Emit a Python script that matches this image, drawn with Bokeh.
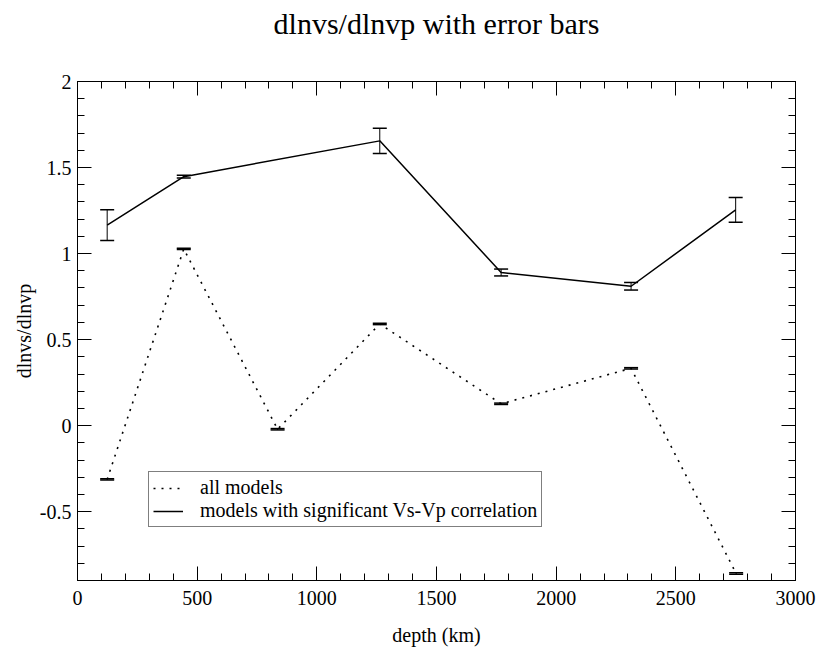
from bokeh.plotting import figure
from bokeh.models import (ColumnDataSource, Whisker, TeeHead, FixedTicker, LinearAxis,
                          Range1d)
from bokeh.embed import file_html
from bokeh.resources import INLINE

# ---- data ----
depth_all = [124, 444, 836, 1263, 1770, 2313, 2752]
ratio_all = [-0.312, 1.027, -0.021, 0.591, 0.127, 0.333, -0.859]
err_all = [0.004, 0.004, 0.004, 0.004, 0.004, 0.004, 0.004]

depth_sig = [124, 444, 1263, 1770, 2313, 2750]
ratio_sig = [1.165, 1.447, 1.655, 0.89, 0.81, 1.254]
err_sig = [0.089, 0.008, 0.073, 0.02, 0.022, 0.072]

x_ticks = [0, 500, 1000, 1500, 2000, 2500, 3000]
x_minor = [i * 100 for i in range(31)]
y_ticks = [-0.5, 0, 0.5, 1, 1.5, 2]
y_tick_labels = ["-0.5", "0", "0.5", "1", "1.5", "2"]
y_minor = [round(-0.9 + 0.1 * i, 2) for i in range(30)]

title_text = "dlnvs/dlnvp with error bars"
x_label = "depth (km)"
y_label = "dlnvs/dlnvp"
legend_all = "all models"
legend_sig = "models with significant Vs-Vp correlation"

FONT = "Liberation Serif"

p = figure(width=817, height=649, output_backend="svg", toolbar_location=None,
           x_range=Range1d(0, 3000), y_range=Range1d(-0.9, 2),
           min_border_left=77, min_border_right=22, min_border_top=81, min_border_bottom=69,
           x_axis_label=x_label, y_axis_label=y_label)
p.grid.visible = False
p.outline_line_color = "black"
p.outline_line_width = 1
p.background_fill_color = "white"
p.border_fill_color = "white"

src_all = ColumnDataSource(dict(x=depth_all, y=ratio_all,
                                lo=[v - e for v, e in zip(ratio_all, err_all)],
                                hi=[v + e for v, e in zip(ratio_all, err_all)]))
src_sig = ColumnDataSource(dict(x=depth_sig, y=ratio_sig,
                                lo=[v - e for v, e in zip(ratio_sig, err_sig)],
                                hi=[v + e for v, e in zip(ratio_sig, err_sig)]))

p.line("x", "y", source=src_all, line_color="black", line_width=1.6,
       line_dash="2 6", legend_label=legend_all)
p.line("x", "y", source=src_sig, line_color="black", line_width=1.5,
       legend_label=legend_sig)

for src in (src_all, src_sig):
    w = Whisker(source=src, base="x", lower="lo", upper="hi", dimension="height",
                line_color="black", line_width=1,
                upper_head=TeeHead(size=14, line_color="black", line_width=1.5),
                lower_head=TeeHead(size=14, line_color="black", line_width=1.5))
    p.add_layout(w)

# axes
def style_axis(ax, labels=True):
    ax.axis_line_color = "black"
    ax.major_tick_in = 14
    ax.major_tick_out = 0
    ax.minor_tick_in = 7
    ax.minor_tick_out = 0
    ax.major_tick_line_color = "black"
    ax.minor_tick_line_color = "black"
    if labels:
        ax.major_label_text_font = FONT
        ax.major_label_text_font_size = "20px"
        ax.major_label_text_color = "black"
        ax.axis_label_text_font = FONT
        ax.axis_label_text_font_size = "20px"
        ax.axis_label_text_font_style = "normal"
        ax.axis_label_text_color = "black"
    else:
        ax.major_label_text_font_size = "1px"
        ax.major_label_text_color = None
        ax.major_label_standoff = 0

xt = FixedTicker(ticks=x_ticks, minor_ticks=x_minor)
yt = FixedTicker(ticks=y_ticks, minor_ticks=y_minor)

bx = p.xaxis[0]
bx.ticker = xt
style_axis(bx)
bx.major_label_standoff = 10
bx.axis_label_standoff = 16

ly = p.yaxis[0]
ly.ticker = yt
ly.major_label_overrides = {t: s for t, s in zip(y_ticks, y_tick_labels)}
style_axis(ly)
ly.major_label_standoff = 6
ly.axis_label_standoff = 2

# top axis: carries the ticks and the chart title as its label
tx = LinearAxis(ticker=xt, axis_label=title_text)
style_axis(tx, labels=False)
tx.axis_label_text_font = FONT
tx.axis_label_text_font_size = "30px"
tx.axis_label_text_font_style = "normal"
tx.axis_label_text_color = "black"
tx.axis_label_standoff = 42
p.add_layout(tx, "above")

ry = LinearAxis(ticker=yt)
style_axis(ry, labels=False)
p.add_layout(ry, "right")

lg = p.legend[0]
lg.location = (71, 53)
lg.label_text_font = FONT
lg.label_text_font_size = "20px"
lg.label_text_color = "black"
lg.border_line_color = "black"
lg.border_line_width = 1
lg.background_fill_alpha = 1
lg.padding = 4
lg.spacing = 0
lg.margin = 0
lg.glyph_width = 30
lg.glyph_height = 20
lg.label_height = 20
lg.label_standoff = 17

open("out.html", "w").write(file_html(p, INLINE))
